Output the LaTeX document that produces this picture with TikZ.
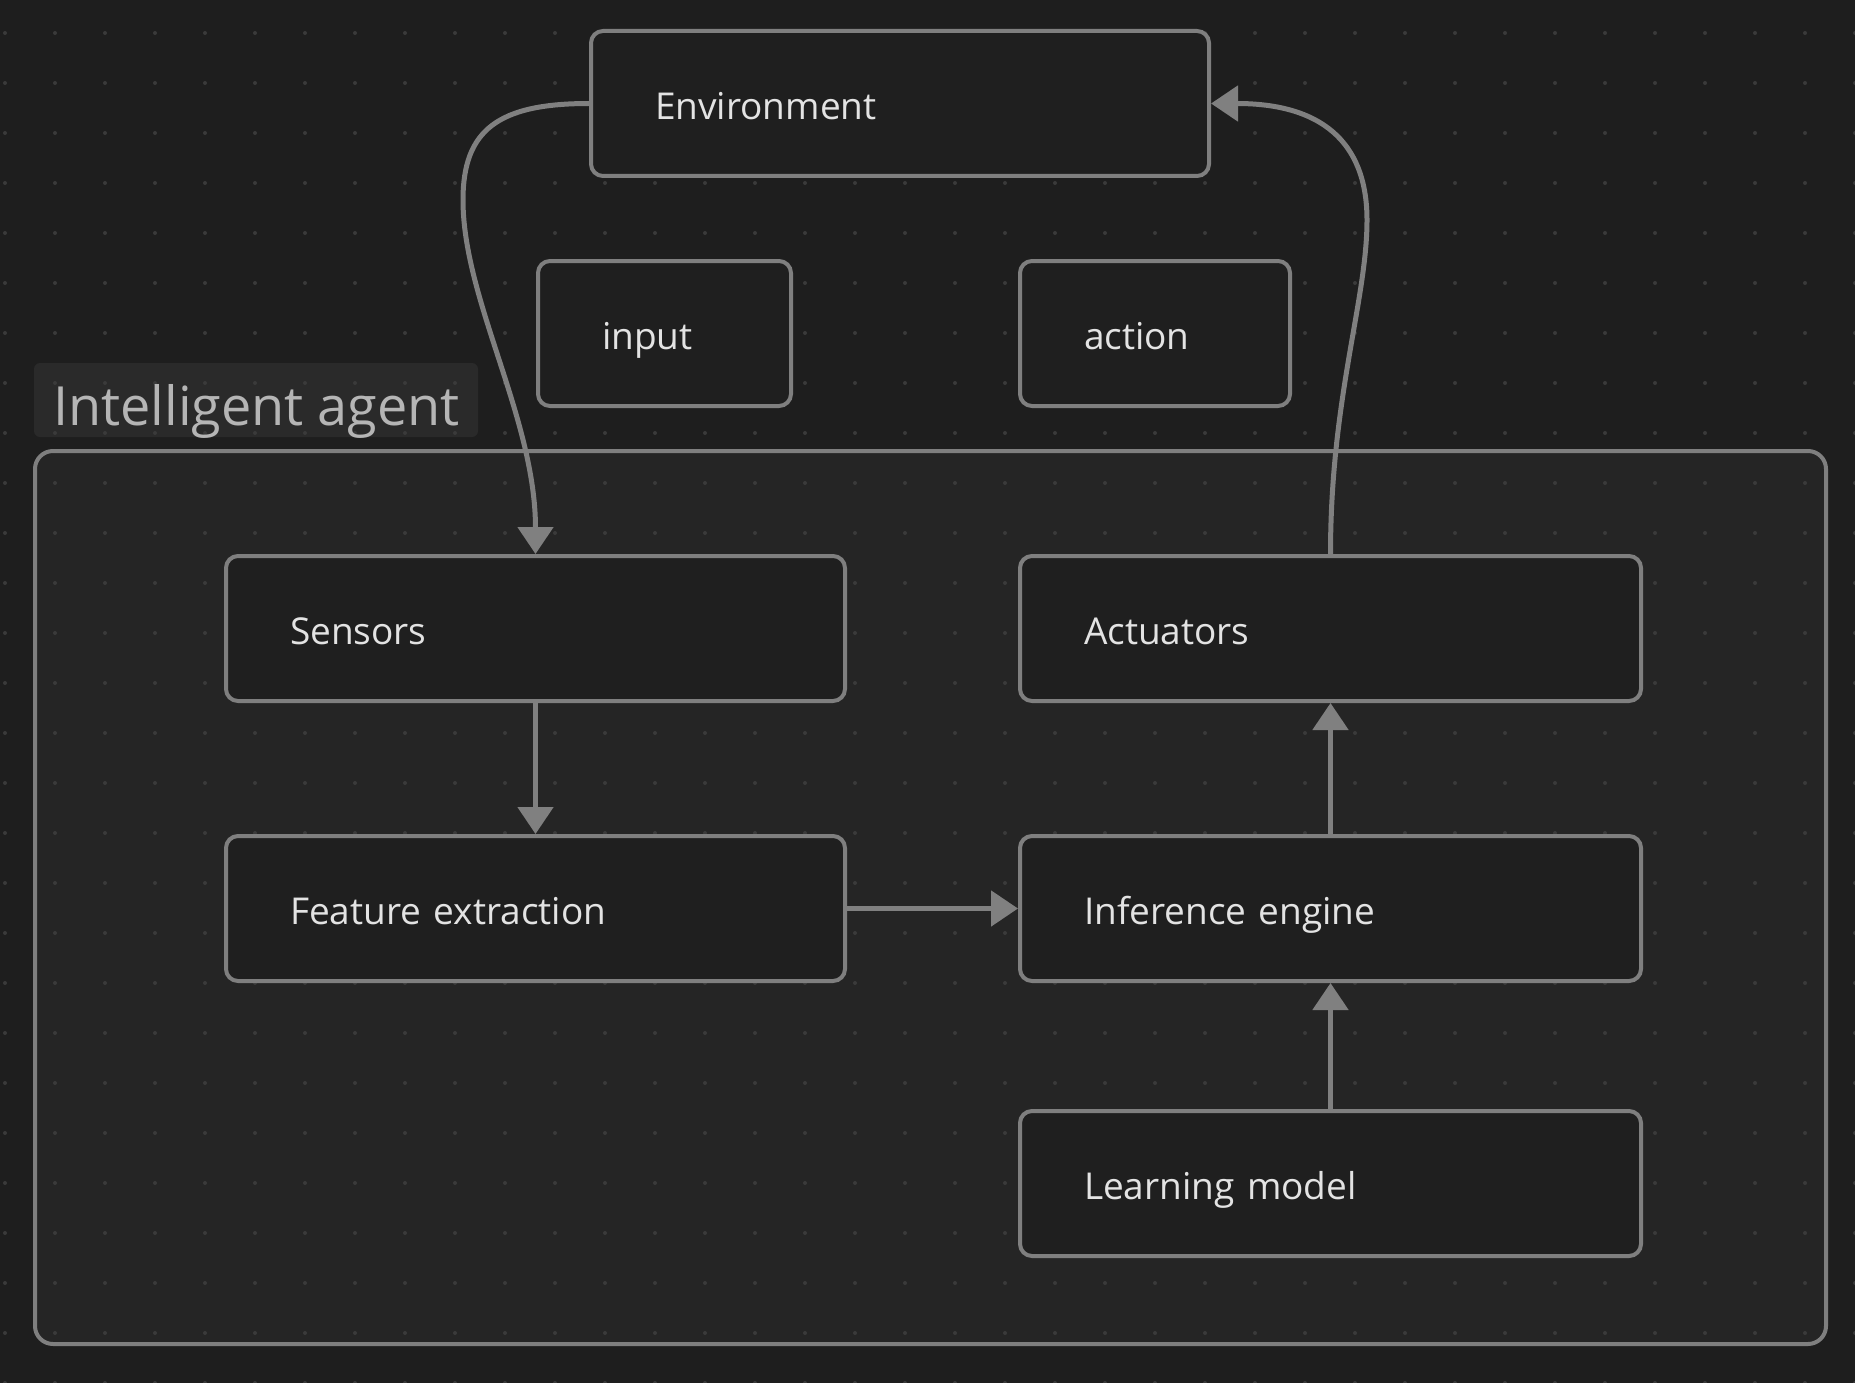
\documentclass[tikz,border=0pt]{standalone}
\usepackage{fontspec}
\setmainfont{Open Sans}
\usetikzlibrary{arrows.meta}
\definecolor{bgc}{RGB}{30,30,30}
\definecolor{grpc}{RGB}{37,37,37}
\definecolor{dotc}{RGB}{58,58,58}
\definecolor{nodefill}{RGB}{31,31,31}
\definecolor{bordc}{RGB}{127,127,127}
\definecolor{arrc}{RGB}{128,128,128}
\definecolor{txtc}{RGB}{227,227,227}
\definecolor{lbltxt}{RGB}{181,181,181}
\definecolor{lblbg}{RGB}{42,42,42}
\tikzset{
  stepbox/.style={draw=bordc, line width=4pt, fill=nodefill, rounded corners=12pt,
    text=txtc, font=\fontsize{37}{40}\selectfont, align=left,
    inner xsep=64pt, inner ysep=0pt, minimum height=145pt,
    text height=32pt, text depth=0pt},
  arr/.style={draw=arrc, line width=5pt, -{Triangle[width=35pt,length=27pt]}},
}
\begin{document}
\begin{tikzpicture}[x=1pt,y=-1pt]
\useasboundingbox (0,0) rectangle (1855,1383);
\fill[bgc] (0,0) rectangle (1855,1383);
% group fill and label background
\fill[grpc, rounded corners=18pt] (35,451) rectangle (1826,1344);
\fill[lblbg, rounded corners=6pt] (34,363) rectangle (478,437);
% dot grid
\foreach \i in {0,...,37}{
  \foreach \j in {0,...,27}{
    \fill[dotc] (5+50*\i,33+50*\j) circle (2pt);
  }
}
\node[anchor=base west, inner sep=0pt, text=lbltxt, font=\fontsize{54}{58}\selectfont] (glabel) at (53,425) {Intelligent agent};
\draw[bordc, line width=4pt, rounded corners=18pt] (35,451) rectangle (1826,1344);
% nodes
\node[stepbox, text width=490pt] (env) at (900,103.5) {Environment};
\node[stepbox, text width=125pt] (input) at (664.5,333.5) {input};
\node[stepbox, text width=142pt] (action) at (1155,333.5) {action};
\node[stepbox, text width=491pt] (sens) at (535.5,628.5) {Sensors};
\node[stepbox, text width=491pt] (feat) at (535.5,908.5) {Feature extraction};
\node[stepbox, text width=493pt] (act) at (1330.5,628.5) {Actuators};
\node[stepbox, text width=493pt] (inf) at (1330.5,908.5) {Inference engine};
\node[stepbox, text width=493pt] (learn) at (1330.5,1183.5) {Learning model};
% connectors
\coordinate (c1) at (463,200);
\coordinate (c2) at (1367,220);
\draw[arr] (env.west) .. controls +(-91,0) and +(0,-70) .. (c1)
  .. controls +(0,100) and +(0,-136) .. (sens.north);
\draw[arr] (sens.south) -- (feat.north);
\draw[arr] (feat.east) -- (inf.west);
\draw[arr] (learn.north) -- (inf.south);
\draw[arr] (inf.north) -- (act.south);
\draw[arr] (act.north) .. controls +(0,-156) and +(0,80) .. (c2)
  .. controls +(0,-80) and +(108,0) .. (env.east);
\end{tikzpicture}
\end{document}
